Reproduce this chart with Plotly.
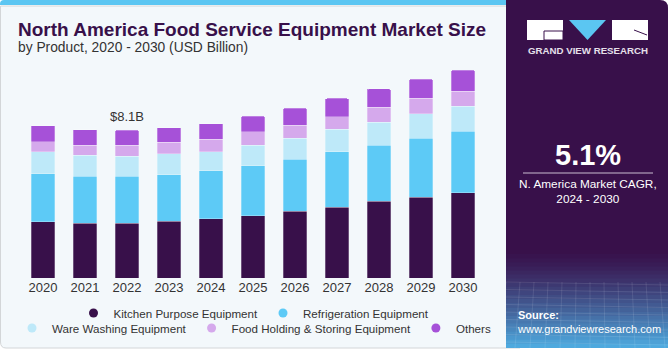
import plotly.graph_objects as go

years = ["2020", "2021", "2022", "2023", "2024", "2025", "2026", "2027", "2028", "2029", "2030"]
kitchen = [3.09, 3.00, 3.00, 3.11, 3.25, 3.42, 3.67, 3.89, 4.22, 4.44, 4.68]
refrigeration = [2.62, 2.58, 2.58, 2.54, 2.63, 2.74, 2.84, 3.03, 3.07, 3.22, 3.38]
ware_washing = [1.21, 1.15, 1.11, 1.17, 1.04, 1.12, 1.15, 1.23, 1.26, 1.35, 1.35]
food_holding = [0.55, 0.55, 0.59, 0.62, 0.68, 0.73, 0.73, 0.69, 0.82, 0.84, 0.84]
others = [0.89, 0.86, 0.82, 0.81, 0.86, 0.86, 0.92, 1.01, 1.00, 1.06, 1.15]

series_names = ["Kitchen Purpose Equipment", "Refrigeration Equipment", "Ware Washing Equipment",
                "Food Holding & Storing Equipment", "Others"]
series_values = [kitchen, refrigeration, ware_washing, food_holding, others]
series_colors = ["#38104A", "#5DCAF6", "#BEE9F9", "#D5A9EC", "#A651D8"]

label_year = "2022"
label_text = "$8.1B"
cagr_text = "5.1%"

FONT = "Liberation Sans, Arial, sans-serif"
W_PX, H_PX = 671, 350
L, R_EDGE, T, B = 0, 506, 60, 278
PW, PH = R_EDGE - L, B - T
Y_MAX = 11.956
FIRST_CENTER, STEP = 43.0, 42.0


def px(x):
    return (x - L) / PW


def py(y):
    return (B - y) / PH


fig = go.Figure()
for name, vals, col in zip(series_names, series_values, series_colors):
    fig.add_trace(go.Bar(x=years, y=vals, name=name, marker_color=col,
                         marker_line=dict(color="rgba(255,255,255,0.45)", width=0.6),
                         showlegend=False, hoverinfo="skip"))

for i, (name, col) in enumerate(zip(series_names, series_colors)):
    fig.add_trace(go.Scatter(x=[years[0]], y=[None], mode="markers", name=name,
                             marker=dict(size=9, color=col, symbol="circle"),
                             legend="legend" if i < 2 else "legend2", hoverinfo="skip"))

shapes = []
# card background
shapes.append(dict(type="path", xref="paper", yref="paper",
                   path=(f"M {px(0.5)},{py(6)} L {px(0.5)},{py(342)} Q {px(0.5)},{py(348)} {px(6)},{py(348)} "
                         f"L {px(520)},{py(348)} L {px(520)},{py(6)} Z"),
                   fillcolor="#F3F8FB", line=dict(color="#D3D6D8", width=1), layer="below"))
# top stripe
shapes.append(dict(type="path", xref="paper", yref="paper",
                   path=(f"M {px(0)},{py(5)} L {px(0)},{py(4)} Q {px(0)},{py(0)} {px(4)},{py(0)} "
                         f"L {px(508)},{py(0)} L {px(508)},{py(5)} Z"),
                   fillcolor="#5BC6F2", line=dict(width=0), layer="below"))
# right panel
shapes.append(dict(type="path", xref="paper", yref="paper",
                   path=(f"M {px(506)},{py(0)} L {px(660)},{py(0)} Q {px(668)},{py(0)} {px(668)},{py(8)} "
                         f"L {px(668)},{py(348)} L {px(506)},{py(348)} Z"),
                   fillcolor="#38104A", line=dict(width=0), layer="below"))
# gradient at bottom of panel
n = 24
y0, y1 = 250, 348
c0 = (0x38, 0x10, 0x4A)
c1 = (0x4F, 0xAE, 0xE3)
for k in range(n):
    t = (k + 0.5) / n
    t2 = t ** 1.3
    c = tuple(int(c0[j] + (c1[j] - c0[j]) * t2) for j in range(3))
    ya = y0 + (y1 - y0) * k / n
    yb = y0 + (y1 - y0) * (k + 1) / n + 0.5
    shapes.append(dict(type="rect", xref="paper", yref="paper", x0=px(506), x1=px(668),
                       y0=py(ya), y1=py(min(yb, 348)), fillcolor="rgb(%d,%d,%d)" % c,
                       line=dict(width=0), layer="below"))
# faint grid pattern on the gradient
for k in range(9):
    yy = 282 + k * 7.5
    shapes.append(dict(type="line", xref="paper", yref="paper", x0=px(506), x1=px(668),
                       y0=py(yy), y1=py(yy + 3), line=dict(color="rgba(255,255,255,0.10)", width=1),
                       layer="below"))
for k in range(12):
    xx = 506 + k * 14
    shapes.append(dict(type="line", xref="paper", yref="paper", x0=px(xx), x1=px(xx - 6 + k),
                       y0=py(282), y1=py(348), line=dict(color="rgba(255,255,255,0.10)", width=1),
                       layer="below"))
# logo
shapes.append(dict(type="rect", xref="paper", yref="paper", x0=px(527), x1=px(563), y0=py(40), y1=py(20),
                   fillcolor="white", line=dict(width=0)))
shapes.append(dict(type="path", xref="paper", yref="paper",
                   path=f"M {px(569)},{py(20)} L {px(606)},{py(20)} L {px(587.5)},{py(40)} Z",
                   fillcolor="#5BC6F2", line=dict(width=0)))
shapes.append(dict(type="rect", xref="paper", yref="paper", x0=px(612), x1=px(648), y0=py(40), y1=py(20),
                   fillcolor="white", line=dict(width=0)))
shapes.append(dict(type="path", xref="paper", yref="paper",
                   path=f"M {px(544)},{py(31)} L {px(563)},{py(31)} L {px(563)},{py(40)} L {px(544)},{py(40)} Z",
                   fillcolor="white", line=dict(color="#38104A", width=1)))
shapes.append(dict(type="line", xref="paper", yref="paper", x0=px(634), x1=px(647), y0=py(30), y1=py(35),
                   line=dict(color="#38104A", width=1)))
# separator line in panel
shapes.append(dict(type="line", xref="paper", yref="paper", x0=px(523), x1=px(653), y0=py(173), y1=py(173),
                   line=dict(color="#C9BCD0", width=1)))

ann = []
ann.append(dict(text="<b>North America Food Service Equipment Market Size</b>", xref="paper", yref="paper",
                x=px(16), y=py(29), xanchor="left", yanchor="middle", showarrow=False,
                font=dict(family=FONT, size=19, color="#38104A")))
ann.append(dict(text="by Product, 2020 - 2030 (USD Billion)", xref="paper", yref="paper",
                x=px(16), y=py(47.5), xanchor="left", yanchor="middle", showarrow=False,
                font=dict(family=FONT, size=13.8, color="#333333")))
idx = years.index(label_year)
total = sum(v[idx] for v in series_values)
ann.append(dict(text=label_text, x=idx, y=total, xref="x", yref="y", yanchor="bottom", yshift=4,
                showarrow=False, font=dict(family=FONT, size=13, color="#333333")))
ann.append(dict(text="<b>GRAND VIEW RESEARCH</b>", xref="paper", yref="paper", x=px(587.5), y=py(51),
                xanchor="center", yanchor="middle", showarrow=False,
                font=dict(family=FONT, size=9.7, color="#E6E0EA")))
ann.append(dict(text=f"<b>{cagr_text}</b>", xref="paper", yref="paper", x=px(588), y=py(155),
                xanchor="center", yanchor="middle", showarrow=False,
                font=dict(family=FONT, size=29, color="white")))
ann.append(dict(text="N. America Market CAGR,<br>2024 - 2030", xref="paper", yref="paper", x=px(588), y=py(192),
                xanchor="center", yanchor="middle", showarrow=False, align="center",
                font=dict(family=FONT, size=11.8, color="white")))
ann.append(dict(text="<b>Source:</b><br>www.grandviewresearch.com", xref="paper", yref="paper", x=px(515),
                y=py(322), xanchor="left", yanchor="middle", showarrow=False, align="left",
                font=dict(family=FONT, size=11, color="white")))

legend_common = dict(orientation="h", xanchor="center", yanchor="middle", bgcolor="rgba(0,0,0,0)",
                     font=dict(family=FONT, size=11.6, color="#333333"),
                     itemwidth=30, traceorder="normal")

fig.update_layout(
    width=W_PX, height=H_PX,
    margin=dict(l=L, r=W_PX - R_EDGE, t=T, b=H_PX - B, pad=0, autoexpand=False),
    paper_bgcolor="white", plot_bgcolor="rgba(0,0,0,0)",
    barmode="stack", bargap=0.43, barcornerradius=2,
    xaxis=dict(type="category", categoryorder="array", categoryarray=years,
               range=[(L - FIRST_CENTER) / STEP, (R_EDGE - FIRST_CENTER) / STEP],
               showgrid=False, zeroline=False, showline=False, ticks="",
               tickfont=dict(family=FONT, size=13, color="#333333"), fixedrange=True),
    yaxis=dict(range=[0, Y_MAX], visible=False, fixedrange=True),
    legend=dict(x=px(254), y=py(313), **legend_common),
    legend2=dict(x=px(254), y=py(328), **legend_common),
    shapes=shapes, annotations=ann, showlegend=True,
)

fig.write_html("out.html", config={"displayModeBar": False})
